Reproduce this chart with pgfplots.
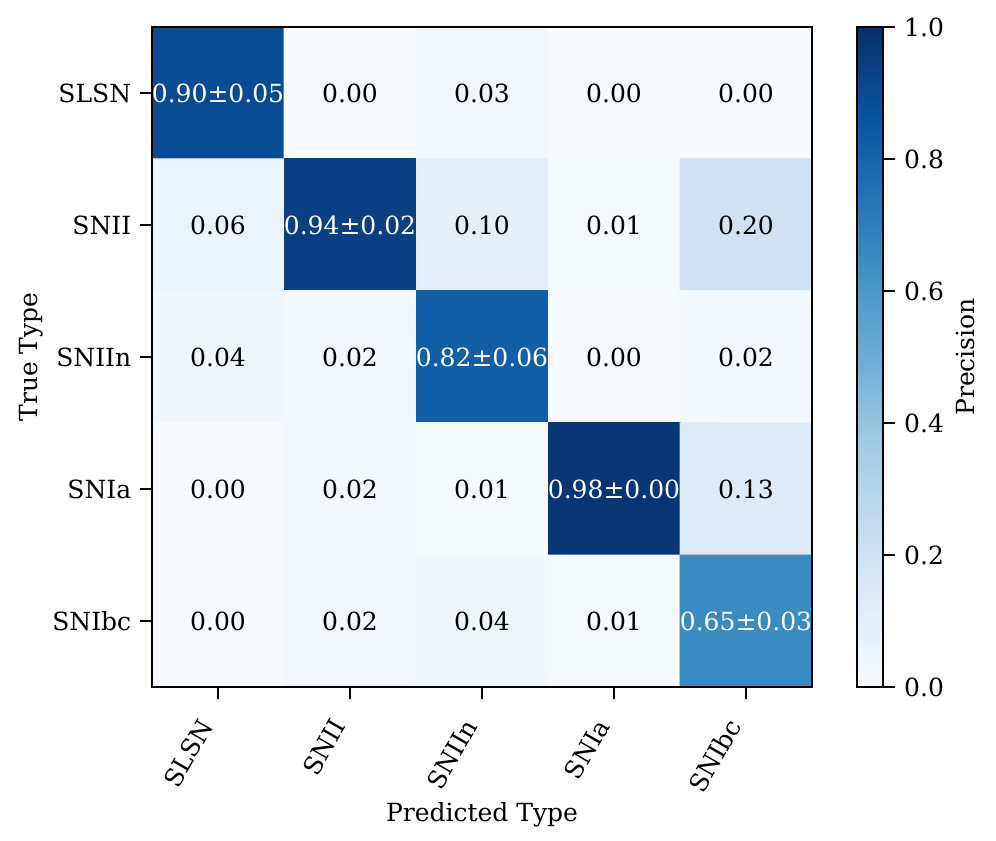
\documentclass[border=0pt]{standalone}
\usepackage{fontspec}
\setmainfont{DejaVu Serif}
\usepackage{pgfplots}
\usepackage{pgfplotstable}
\pgfplotsset{compat=1.18}
\pgfplotsset{/pgf/number format/assume math mode=true}

% precision matrix, rows = true type, columns = predicted type
\pgfplotstableread{
x y c
0 0 0.90
1 0 0.00
2 0 0.03
3 0 0.00
4 0 0.00
0 1 0.06
1 1 0.94
2 1 0.10
3 1 0.01
4 1 0.20
0 2 0.04
1 2 0.02
2 2 0.82
3 2 0.00
4 2 0.02
0 3 0.00
1 3 0.02
2 3 0.01
3 3 0.98
4 3 0.13
0 4 0.00
1 4 0.02
2 4 0.04
3 4 0.01
4 4 0.65
}\cells

\pgfplotstableread{
x y lab
1 0 0.00
2 0 0.03
3 0 0.00
4 0 0.00
0 1 0.06
2 1 0.10
3 1 0.01
4 1 0.20
0 2 0.04
1 2 0.02
3 2 0.00
4 2 0.02
0 3 0.00
1 3 0.02
2 3 0.01
4 3 0.13
0 4 0.00
1 4 0.02
2 4 0.04
3 4 0.01
}\offdiag

\pgfplotstableread{
x y lab
0 0 0.90±0.05
1 1 0.94±0.02
2 2 0.82±0.06
3 3 0.98±0.00
4 4 0.65±0.03
}\diag

\begin{document}
\begin{tikzpicture}
\begin{axis}[
  name=main,
  width=264pt, height=264pt,
  scale only axis,
  axis on top,
  xmin=-0.5, xmax=4.5,
  ymin=-0.5, ymax=4.5,
  y dir=reverse,
  xtick={0,1,2,3,4},
  ytick={0,1,2,3,4},
  xticklabels={SLSN,SNII,SNIIn,SNIa,SNIbc},
  yticklabels={SLSN,SNII,SNIIn,SNIa,SNIbc},
  xticklabel style={xshift=-2.8pt, yshift=-6pt, rotate=60, anchor=east},
  xlabel={Predicted Type},
  xlabel style={yshift=5pt},
  ylabel={True Type},
  ylabel shift=-3pt,
  tick pos=left,
  tick align=outside,
  major tick length=4.8pt,
  every tick/.style={black, line width=0.8pt},
  axis line style={line width=0.8pt},
  colormap={blues}{
    rgb255=(247,251,255) rgb255=(222,235,247) rgb255=(198,219,239)
    rgb255=(158,202,225) rgb255=(107,174,214) rgb255=(66,146,198)
    rgb255=(33,113,181) rgb255=(8,81,156) rgb255=(8,48,107)},
  point meta min=0, point meta max=1,
  colorbar,
  colorbar style={
    at={(parent axis.north east)}, anchor=north west, xshift=9.6pt,
    width=10.4pt,
    ytick={0,0.2,0.4,0.6,0.8,1.0},
    yticklabel style={/pgf/number format/.cd, fixed, fixed zerofill, precision=1},
    ytick pos=right, yticklabel pos=right,
    tick align=outside,
    major tick length=4.8pt,
    every tick/.style={black, line width=0.8pt},
    axis line style={line width=0.8pt},
    ylabel={Precision},
    ylabel near ticks,
    ylabel shift=-2pt,
  },
]
\addplot[matrix plot*, mesh/cols=5, point meta=explicit]
  table[x=x, y=y, meta=c] {\cells};
\addplot[only marks, mark=none, nodes near coords, point meta=explicit symbolic,
  nodes near coords style={anchor=center, text=black}]
  table[x=x, y=y, meta=lab] {\offdiag};
\addplot[only marks, mark=none, nodes near coords, point meta=explicit symbolic,
  nodes near coords style={anchor=center, text=white}]
  table[x=x, y=y, meta=lab] {\diag};
\end{axis}
\pgfresetboundingbox
\path[use as bounding box] (main.south west) ++(-60.8pt,-61.6pt) rectangle ([shift={(73.6pt,10.8pt)}]main.north east);
\end{tikzpicture}
\end{document}
